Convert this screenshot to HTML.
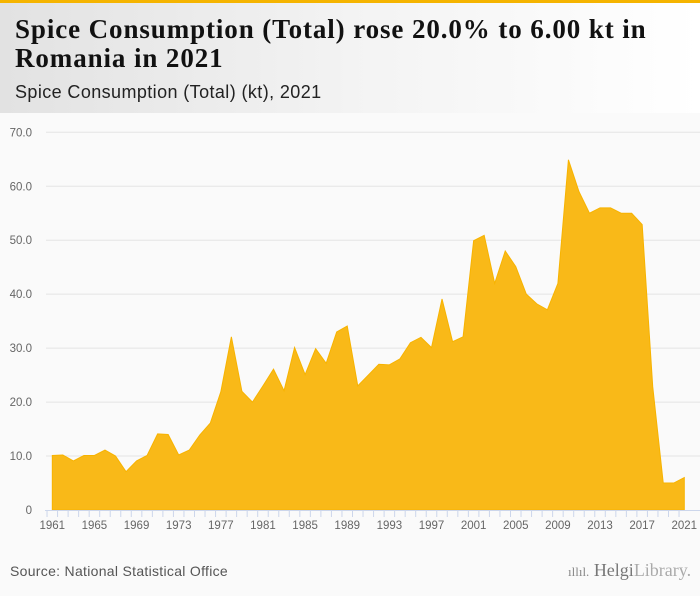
<!DOCTYPE html>
<html><head><meta charset="utf-8"><style>
body{margin:0;width:700px;height:596px;background:#fafafa;font-family:"Liberation Sans",sans-serif;overflow:hidden;position:relative}
#hdr{position:absolute;left:0;top:0;width:700px;height:113px;background:linear-gradient(90deg,#e2e2e2 0%,#f3f3f3 50%,#ffffff 100%);border-top:3px solid #f5b400;box-sizing:border-box}
#title{position:absolute;left:15px;top:12px;font-family:"Liberation Serif",serif;font-weight:bold;font-size:27px;line-height:29px;color:#111;letter-spacing:0.9px}
#sub{position:absolute;left:15px;top:79px;font-size:18px;color:#222;letter-spacing:0.4px}
#src{position:absolute;left:10px;top:563px;font-size:14px;color:#555;letter-spacing:0.3px}
#logo{position:absolute;left:568px;top:560px;font-family:"Liberation Serif",serif;font-size:18px;color:#888}
</style></head><body>
<div id="hdr">
<div id="title">Spice Consumption (Total) rose 20.0% to 6.00 kt in<br>Romania in 2021</div>
<div id="sub">Spice Consumption (Total) (kt), 2021</div>
</div>
<svg id="chart" width="700" height="596" style="position:absolute;left:0;top:0"></svg>
<div id="src">Source: National Statistical Office</div>
<div id="logo"><span style="font-size:13px">ıllıl.</span> <b style="font-weight:normal;color:#777">Helgi</b><span style="color:#aaa">Library.</span></div>
<script>
const years=[];for(let y=1961;y<=2021;y++)years.push(y);
const values=[10.1,10.2,9.1,10.1,10.1,11.1,10.0,7.1,9.1,10.1,14.1,14.0,10.2,11.1,13.9,16.1,21.9,32.1,22.0,20.0,23.0,26.1,22.1,30.1,25.1,29.9,27.2,33.0,34.1,23.0,25.0,27.0,26.9,28.0,31.0,32.0,30.1,39.1,31.2,32.1,49.9,50.9,42.0,48.0,45.1,40.0,38.2,37.1,42.0,64.9,59.0,55.0,56.0,56.0,55.0,55.0,52.9,22.9,5.0,5.0,6.0];
const yTicks=[0,10,20,30,40,50,60,70];
const yTickLabels=["0","10.0","20.0","30.0","40.0","50.0","60.0","70.0"];
const xLabelYears=[1961,1965,1969,1973,1977,1981,1985,1989,1993,1997,2001,2005,2009,2013,2017,2021];
const NS="http://www.w3.org/2000/svg";
const svg=document.getElementById('chart');
const x0=52.3,x1=684.3,yb=510,yt=132.3;
function xs(y){return x0+(y-1961)*(x1-x0)/60;}
function ys(v){return yb-v*(yb-yt)/70;}
function mk(t,a){const e=document.createElementNS(NS,t);for(const k in a)e.setAttribute(k,a[k]);svg.appendChild(e);return e;}
yTicks.forEach((t,i)=>{
 if(t>0){const g=mk('line',{x1:46,x2:700,y1:ys(t),y2:ys(t),stroke:'#e4e4e4','stroke-width':1});
 
 }
 const l=mk('text',{x:32,y:ys(t)+4,'text-anchor':'end','font-size':11.5,fill:'#666','font-family':'Liberation Sans, sans-serif'});
 l.textContent=yTickLabels[i];
 
 
});
let d='M'+xs(years[0])+','+yb;
years.forEach((y,i)=>{d+=' L'+xs(y).toFixed(2)+','+ys(values[i]).toFixed(2);});
d+=' L'+xs(years[years.length-1])+','+yb+' Z';
const area=mk('path',{d:d,fill:'#f9b918',stroke:'#f7b300','stroke-width':1});


const ax=mk('line',{x1:45,x2:700,y1:yb+0.5,y2:yb+0.5,stroke:'#ccd6eb','stroke-width':1});


years.forEach(y=>{const t=mk('line',{x1:xs(y)-5.27,x2:xs(y)-5.27,y1:yb,y2:yb+7,stroke:'#ccd6eb','stroke-width':1});
 
 });
xLabelYears.forEach(y=>{const l=mk('text',{x:xs(y),y:yb+19,'text-anchor':'middle','font-size':11.5,fill:'#666','font-family':'Liberation Sans, sans-serif'});
 l.textContent=y;
 
 });
</script>
</body></html>
